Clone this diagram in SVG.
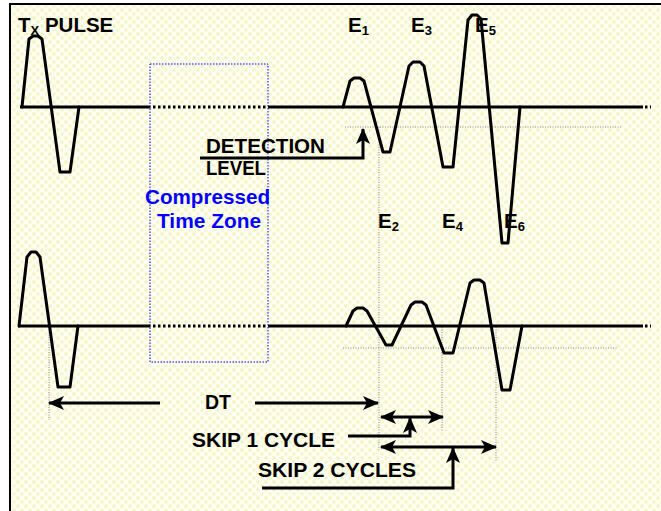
<svg xmlns="http://www.w3.org/2000/svg" width="661" height="511" viewBox="0 0 661 511">
  <defs>
    <pattern id="bg" width="8" height="8" patternUnits="userSpaceOnUse">
      <rect width="8" height="8" fill="#fdfdf0"/>
      <circle cx="2" cy="2" r="1.7" fill="#f2f2bc"/>
      <circle cx="6" cy="6" r="1.7" fill="#f5f5cc"/>
    </pattern>
    <marker id="ah" viewBox="0 0 16 14" refX="15" refY="7" markerWidth="16" markerHeight="14" markerUnits="userSpaceOnUse" orient="auto-start-reverse">
      <path d="M0,0 L16,7 L0,14 L4,7 Z" fill="#000"/>
    </marker>
    <style>
      .wave { fill: none; stroke: #000; stroke-width: 3; stroke-linejoin: round; stroke-linecap: round; }
      .base { fill: none; stroke: #000; stroke-width: 3; }
      .basedot { fill: none; stroke: #000; stroke-width: 3; stroke-dasharray: 2.5 2.5; }
      .guide { fill: none; stroke: #888; stroke-width: 1; stroke-dasharray: 1 1.5; }
      .arrow { fill: none; stroke: #000; stroke-width: 3; }
      .t { font-family: "Liberation Sans", Arial, sans-serif; font-weight: bold; font-size: 20.5px; fill: #000; }
      .sub { font-size: 13px; }
      .blue { fill: #0000ff; }
    </style>
  </defs>

  <rect x="0" y="0" width="661" height="511" fill="#fff"/>
  <rect x="10" y="4" width="660" height="520" fill="url(#bg)" stroke="#000" stroke-width="2"/>

  <g id="compressed-zone">
    <rect x="150" y="64" width="118" height="298" fill="none" stroke="#0000ff" stroke-width="1" stroke-dasharray="1.5 1.5"/>
    <text class="t blue" x="145" y="203.5" textLength="125" lengthAdjust="spacingAndGlyphs">Compressed</text>
    <text class="t blue" x="157" y="227.5" textLength="104" lengthAdjust="spacingAndGlyphs">Time Zone</text>
  </g>

  <g id="guides">
    <line class="guide" x1="345" y1="127" x2="622" y2="127"/>
    <line class="guide" x1="343" y1="348" x2="618" y2="348"/>
    <line class="guide" x1="379" y1="127" x2="379" y2="450"/>
    <line class="guide" x1="442" y1="327" x2="442" y2="432"/>
    <line class="guide" x1="496" y1="327" x2="496" y2="462"/>
    <line class="guide" x1="49" y1="327" x2="49" y2="420"/>
  </g>

  <g id="top-trace">
    <line class="base" x1="20" y1="107" x2="148" y2="107"/>
    <line class="basedot" x1="148" y1="107" x2="268" y2="107"/>
    <line class="base" x1="268" y1="107" x2="643" y2="107"/>
    <line class="basedot" x1="645" y1="107" x2="651" y2="107"/>
    <path class="wave" d="M22,107 L29,39 L33,36 L38,36 L42,39 L60,172 L70,172 L79,107"/>
    <path class="wave" d="M343,107 L350,81 L354,78 L360,78 L364,81 L383,152 L390,152 L409,66 L413,62 L420,62 L424,66 L443,167 L453,167 L468,20 L472,15 L477,15 L481,19 L502,243 L508,243 L520,107"/>
  </g>

  <g id="bottom-trace">
    <line class="base" x1="18" y1="326" x2="148" y2="326"/>
    <line class="basedot" x1="148" y1="326" x2="268" y2="326"/>
    <line class="base" x1="268" y1="326" x2="643" y2="326"/>
    <line class="basedot" x1="645" y1="326" x2="651" y2="326"/>
    <path class="wave" d="M19,326 L27,257 L31,252 L36,252 L40,257 L58,387 L70,387 L78,326"/>
    <path class="wave" d="M346,326 L353,311 L357,308 L363,308 L367,311 L386,345 L392,345 L411,305 L415,302 L422,302 L426,305 L444,353 L453,353 L470,283 L474,280 L480,280 L484,283 L502,390 L510,390 L522,326"/>
  </g>

  <g id="labels">
    <text class="t" x="18" y="32">T<tspan class="sub" dy="2.5">X</tspan><tspan dy="-2.5"> PULSE</tspan></text>

    <text id="E1" class="t" x="348" y="32">E<tspan class="sub" dy="2.5">1</tspan></text>
    <text id="E3" class="t" x="411" y="32">E<tspan class="sub" dy="2.5">3</tspan></text>
    <text id="E5" class="t" x="475" y="32">E<tspan class="sub" dy="2.5">5</tspan></text>
    <text id="E2" class="t" x="378" y="228">E<tspan class="sub" dy="2.5">2</tspan></text>
    <text id="E4" class="t" x="442" y="228">E<tspan class="sub" dy="2.5">4</tspan></text>
    <text id="E6" class="t" x="504" y="228">E<tspan class="sub" dy="2.5">6</tspan></text>

    <text class="t" x="206" y="153" textLength="119" lengthAdjust="spacingAndGlyphs">DETECTION</text>
    <text class="t" x="206" y="175" textLength="60" lengthAdjust="spacingAndGlyphs">LEVEL</text>
    <text class="t" x="205" y="409" textLength="26" lengthAdjust="spacingAndGlyphs">DT</text>
    <text class="t" x="192" y="447" textLength="143" lengthAdjust="spacingAndGlyphs">SKIP 1 CYCLE</text>
    <text class="t" x="258" y="477" textLength="158" lengthAdjust="spacingAndGlyphs">SKIP 2 CYCLES</text>
  </g>

  <g id="connectors">
    <polyline class="arrow" points="200,158 363,158 363,129" marker-end="url(#ah)"/>
    <line class="arrow" x1="160" y1="403" x2="49" y2="403" marker-end="url(#ah)"/>
    <line class="arrow" x1="255" y1="403" x2="378" y2="403" marker-end="url(#ah)"/>
    <line class="arrow" x1="381" y1="417" x2="443" y2="417" marker-start="url(#ah)" marker-end="url(#ah)"/>
    <polyline class="arrow" points="348,436 410,436 410,418" marker-end="url(#ah)"/>
    <line class="arrow" x1="381" y1="447" x2="496" y2="447" marker-start="url(#ah)" marker-end="url(#ah)"/>
    <polyline class="arrow" points="262,488 453,488 453,448" marker-end="url(#ah)"/>
  </g>
</svg>
